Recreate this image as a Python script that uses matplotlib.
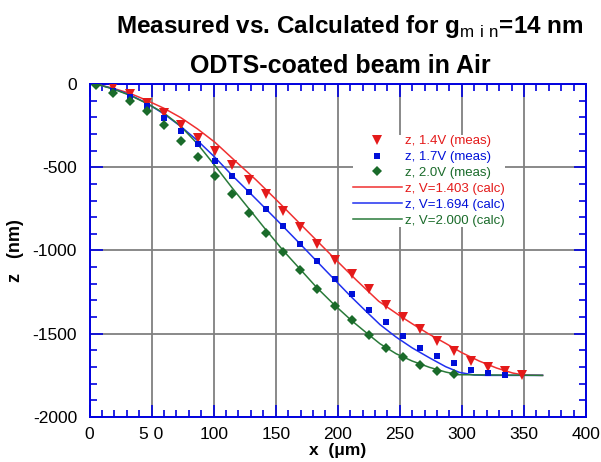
import matplotlib
matplotlib.use('Agg')
import matplotlib.pyplot as plt
from matplotlib.lines import Line2D
from matplotlib.ticker import MultipleLocator

plt.rcParams['font.family'] = ['Liberation Sans', 'DejaVu Sans']
plt.rcParams['mathtext.fontset'] = 'custom'
plt.rcParams['mathtext.rm'] = 'Liberation Sans'
plt.rcParams['axes.unicode_minus'] = False

# measured points
x_14 = [4.9, 18.7, 32.5, 46.2, 60.0, 73.7, 87.4, 101.2, 114.9, 128.7, 142.4, 156.1, 169.9,
        183.6, 197.4, 211.1, 224.8, 238.6, 252.3, 266.1, 279.8, 293.5, 307.3, 321.0, 334.8, 348.5]
z_14 = [0, -20, -62, -112, -176, -244, -322, -404, -489, -577, -661, -762, -858,
        -960, -1056, -1142, -1234, -1326, -1398, -1470, -1544, -1604, -1662, -1698, -1726, -1750]

x_17 = x_14[:25]
z_17 = [0, -40, -76, -130, -202, -282, -358, -460, -555, -651, -753, -855, -963,
        -1065, -1169, -1264, -1360, -1430, -1514, -1586, -1634, -1676, -1718, -1736, -1748]

x_20 = x_14[:22]
z_20 = [-6, -52, -104, -162, -246, -342, -436, -551, -661, -777, -894, -1008, -1120,
        -1232, -1336, -1420, -1508, -1585, -1640, -1688, -1724, -1742]

# calculated curves
xc_1403 = [5, 19, 32.5, 46, 60, 73.5, 87, 101, 117, 134, 150, 169, 183, 197, 215, 233,
           250, 260, 273, 287, 300, 314, 328, 341, 350, 365]
zc_1403 = [0, -26, -56, -98, -146, -202, -270, -350, -460, -575, -692, -835, -940, -1045,
           -1178, -1305, -1392, -1440, -1500, -1558, -1614, -1664, -1706, -1736, -1748, -1750]

xc_1694 = [5, 19, 32.5, 46, 60, 73, 87, 101, 115, 130, 150, 170, 190, 210, 220, 234,
           247, 260, 274, 287, 298, 310, 320, 365]
zc_1694 = [0, -28, -65, -115, -180, -252, -340, -440, -550, -660, -810, -963, -1118,
           -1272, -1345, -1445, -1520, -1585, -1645, -1698, -1732, -1748, -1750, -1750]

xc_2000 = [5, 19, 32.5, 46, 60, 73, 87, 101, 115, 128.5, 142, 156, 170, 183, 197, 211,
           224, 234, 247, 260, 274, 287, 297, 365]
zc_2000 = [0, -30, -68, -116, -175, -250, -360, -490, -625, -750, -875, -1000, -1115,
           -1222, -1325, -1420, -1500, -1560, -1620, -1664, -1702, -1730, -1746, -1750]

red_m, blue_m, green_m = '#e41a1a', '#0010d8', '#1a6b2a'
red_l, blue_l, green_l = '#f03030', '#2030f0', '#2a7a3a'

fig = plt.figure(figsize=(6.01, 4.62), dpi=100)
ax = fig.add_axes([0.149, 0.0974, 0.826, 0.7208])

ax.plot(xc_1403, zc_1403, color=red_l, lw=1.1, zorder=3)
ax.plot(xc_1694, zc_1694, color=blue_l, lw=1.1, zorder=3)
ax.plot(xc_2000, zc_2000, color=green_l, lw=1.1, zorder=3)
ax.plot(x_14, z_14, 'v', color=red_m, ms=6.5, mew=0, zorder=4)
ax.plot(x_17, z_17, 's', color=blue_m, ms=5, mew=0, zorder=4)
ax.plot(x_20, z_20, 'D', color=green_m, ms=5, mew=0, zorder=4)

ax.set_xlim(0, 400)
ax.set_ylim(-2000, 0)
ax.xaxis.set_major_locator(MultipleLocator(50))
ax.xaxis.set_minor_locator(MultipleLocator(10))
ax.yaxis.set_major_locator(MultipleLocator(500))
ax.yaxis.set_minor_locator(MultipleLocator(100))
ax.set_xticks([0, 50, 100, 150, 200, 250, 300, 350, 400])
ax.set_xticklabels(['0', '5 0', '100', '150', '200', '250', '300', '350', '400'])
ax.grid(True, which='major', color='#808080', lw=1.3)
ax.set_axisbelow(True)

for s in ax.spines.values():
    s.set_color('#0000e0')
    s.set_linewidth(1.4)
ax.tick_params(which='both', direction='in', top=True, right=True, color='#0000e0', width=1.2)
ax.tick_params(which='major', length=9, labelsize=12.5)
ax.tick_params(which='minor', length=5)
ax.tick_params(axis='y', pad=9)
ax.tick_params(axis='x', pad=7)

ax.set_xlabel('x  (\u03bcm)', fontsize=12.5, fontweight='bold', labelpad=1)
ax.set_ylabel('z   (nm)', fontsize=13, fontweight='bold', labelpad=6)

fig.text(0.582, 0.942, r'Measured vs. Calculated for g$_{\mathrm{m\ i\ n}}$=14 nm',
         ha='center', va='center', fontsize=17.5, fontweight='bold')
fig.text(0.566, 0.857, 'ODTS-coated beam in Air', ha='center', va='center',
         fontsize=18, fontweight='bold')

handles = [
    Line2D([], [], ls='none', marker='v', color=red_m, ms=6.5, mew=0),
    Line2D([], [], ls='none', marker='s', color=blue_m, ms=5, mew=0),
    Line2D([], [], ls='none', marker='D', color=green_m, ms=5, mew=0),
    Line2D([], [], color=red_l, lw=1.1),
    Line2D([], [], color=blue_l, lw=1.1),
    Line2D([], [], color=green_l, lw=1.1),
]
labels = ['z, 1.4V (meas)', 'z, 1.7V (meas)', 'z, 2.0V (meas)',
          'z, V=1.403 (calc)', 'z, V=1.694 (calc)', 'z, V=2.000 (calc)']
text_colors = [red_m, blue_m, green_m, red_m, blue_m, green_m]
leg = ax.legend(handles, labels, loc='upper left', bbox_to_anchor=(353 / 601, 1 - 135 / 462),
                bbox_transform=fig.transFigure, fontsize=9.5, frameon=True, facecolor='white',
                edgecolor='none', framealpha=1, borderpad=0, borderaxespad=0,
                handlelength=3.7, handletextpad=0.25, labelspacing=0.28, fancybox=False)
for t, c in zip(leg.get_texts(), text_colors):
    t.set_color(c)

fig.savefig('out.png', dpi=100)
